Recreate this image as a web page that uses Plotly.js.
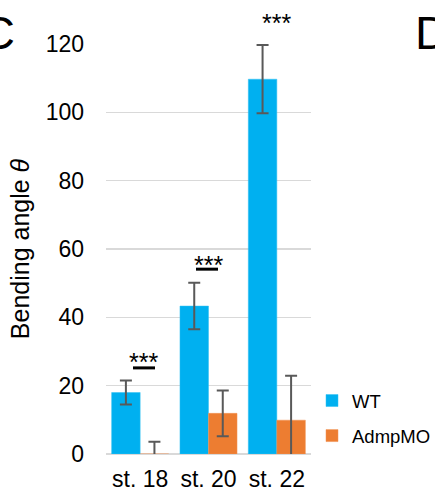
<!DOCTYPE html>
<html>
<head>
<meta charset="utf-8">
<script src="https://cdn.plot.ly/plotly-3.0.1.min.js"></script>
<style>html,body{margin:0;padding:0;background:#fff;}#chart{width:435px;height:494px;}</style>
</head>
<body>
<div id="chart"></div>
<script>
const categories = ["st. 18", "st. 20", "st. 22"];
const wtValues = [18.0, 43.3, 109.7];
const wtErrors = [3.5, 6.8, 10.0];
const moValues = [0, 11.9, 9.9];
const moErrors = [3.6, 6.7, 13.0];
const seriesNames = ["WT", "AdmpMO"];
const yTicks = [0, 20, 40, 60, 80, 100, 120];
const yMax = 120;
const sigLabels = ["***", "***", "***"];
const sigX = [0.05, 1.0, 2.0];
const sigY = [31.6, 60.0, 130.7];

const FONT = "Liberation Sans, Arial, sans-serif";
const errStyle = {type: "data", visible: true, color: "#595959", thickness: 2, width: 6};

const traces = [
  {type: "bar", name: seriesNames[0], x: categories, y: wtValues,
   error_y: Object.assign({array: wtErrors}, errStyle),
   marker: {color: "#00B0F0", line: {color: "#33C1F3", width: 0.5}}, legendgroup: "a", cliponaxis: true},
  {type: "bar", name: seriesNames[1], x: categories, y: moValues,
   error_y: Object.assign({array: moErrors}, errStyle),
   marker: {color: "#ED7D31", line: {color: "#F09355", width: 0.5}}, legendgroup: "b", cliponaxis: true}
];

const annotations = sigLabels.map((t, i) => ({
  text: t, x: sigX[i], y: sigY[i] / yMax, xref: "x", yref: "paper", showarrow: false,
  xanchor: "center", yanchor: "top", font: {family: FONT, size: 25, color: "#000"}
}));
annotations.push({text: "C", xref: "paper", yref: "paper", x: (17 - 106) / 205, y: (454 - 33) / 410,
  xanchor: "right", yanchor: "middle", showarrow: false, font: {family: FONT, size: 47, color: "#000"}});
annotations.push({text: "D", xref: "paper", yref: "paper", x: (413 - 106) / 205, y: (454 - 33) / 410,
  xanchor: "left", yanchor: "middle", showarrow: false, font: {family: FONT, size: 47, color: "#000"}});

const shapes = [
  {type: "line", xref: "x", yref: "y", x0: -0.105, x1: 0.217, y0: 25.2, y1: 25.2, line: {color: "#000", width: 3}},
  {type: "line", xref: "x", yref: "y", x0: 0.817, x1: 1.139, y0: 54.1, y1: 54.1, line: {color: "#000", width: 3}}
];

const layout = {
  width: 435, height: 494,
  margin: {l: 106, r: 124, t: 44, b: 40, pad: 0, autoexpand: false},
  paper_bgcolor: "#fff", plot_bgcolor: "#fff",
  font: {family: FONT, color: "#000"},
  barmode: "group", bargap: 0.165, bargroupgap: 0,
  showlegend: true,
  legend: {x: (312 - 106) / 205, y: (454 - 382) / 410, xanchor: "left", yanchor: "top",
    font: {family: FONT, size: 18.5, color: "#000"}, traceorder: "grouped", tracegroupgap: 8,
    bgcolor: "rgba(0,0,0,0)", borderwidth: 0},
  xaxis: {type: "category", tickfont: {family: FONT, size: 23, color: "#000"}, showgrid: false,
    showline: false, zeroline: false, ticks: "", ticklabelstandoff: 9, fixedrange: true},
  yaxis: {range: [0, yMax], tickvals: yTicks, ticktext: yTicks.map(String), showgrid: true,
    gridcolor: "#D9D9D9", gridwidth: 1.5, zeroline: true, zerolinecolor: "#D9D9D9", zerolinewidth: 2,
    showline: false, ticks: "", tickfont: {family: FONT, size: 23, color: "#000"}, ticklabelstandoff: 21,
    title: {text: "Bending angle <i>θ</i>", font: {family: FONT, size: 25, color: "#000"}, standoff: 8}},
  annotations: annotations,
  shapes: shapes
};

Plotly.newPlot("chart", traces, layout, {staticPlot: true, displayModeBar: false});
</script>
</body>
</html>
